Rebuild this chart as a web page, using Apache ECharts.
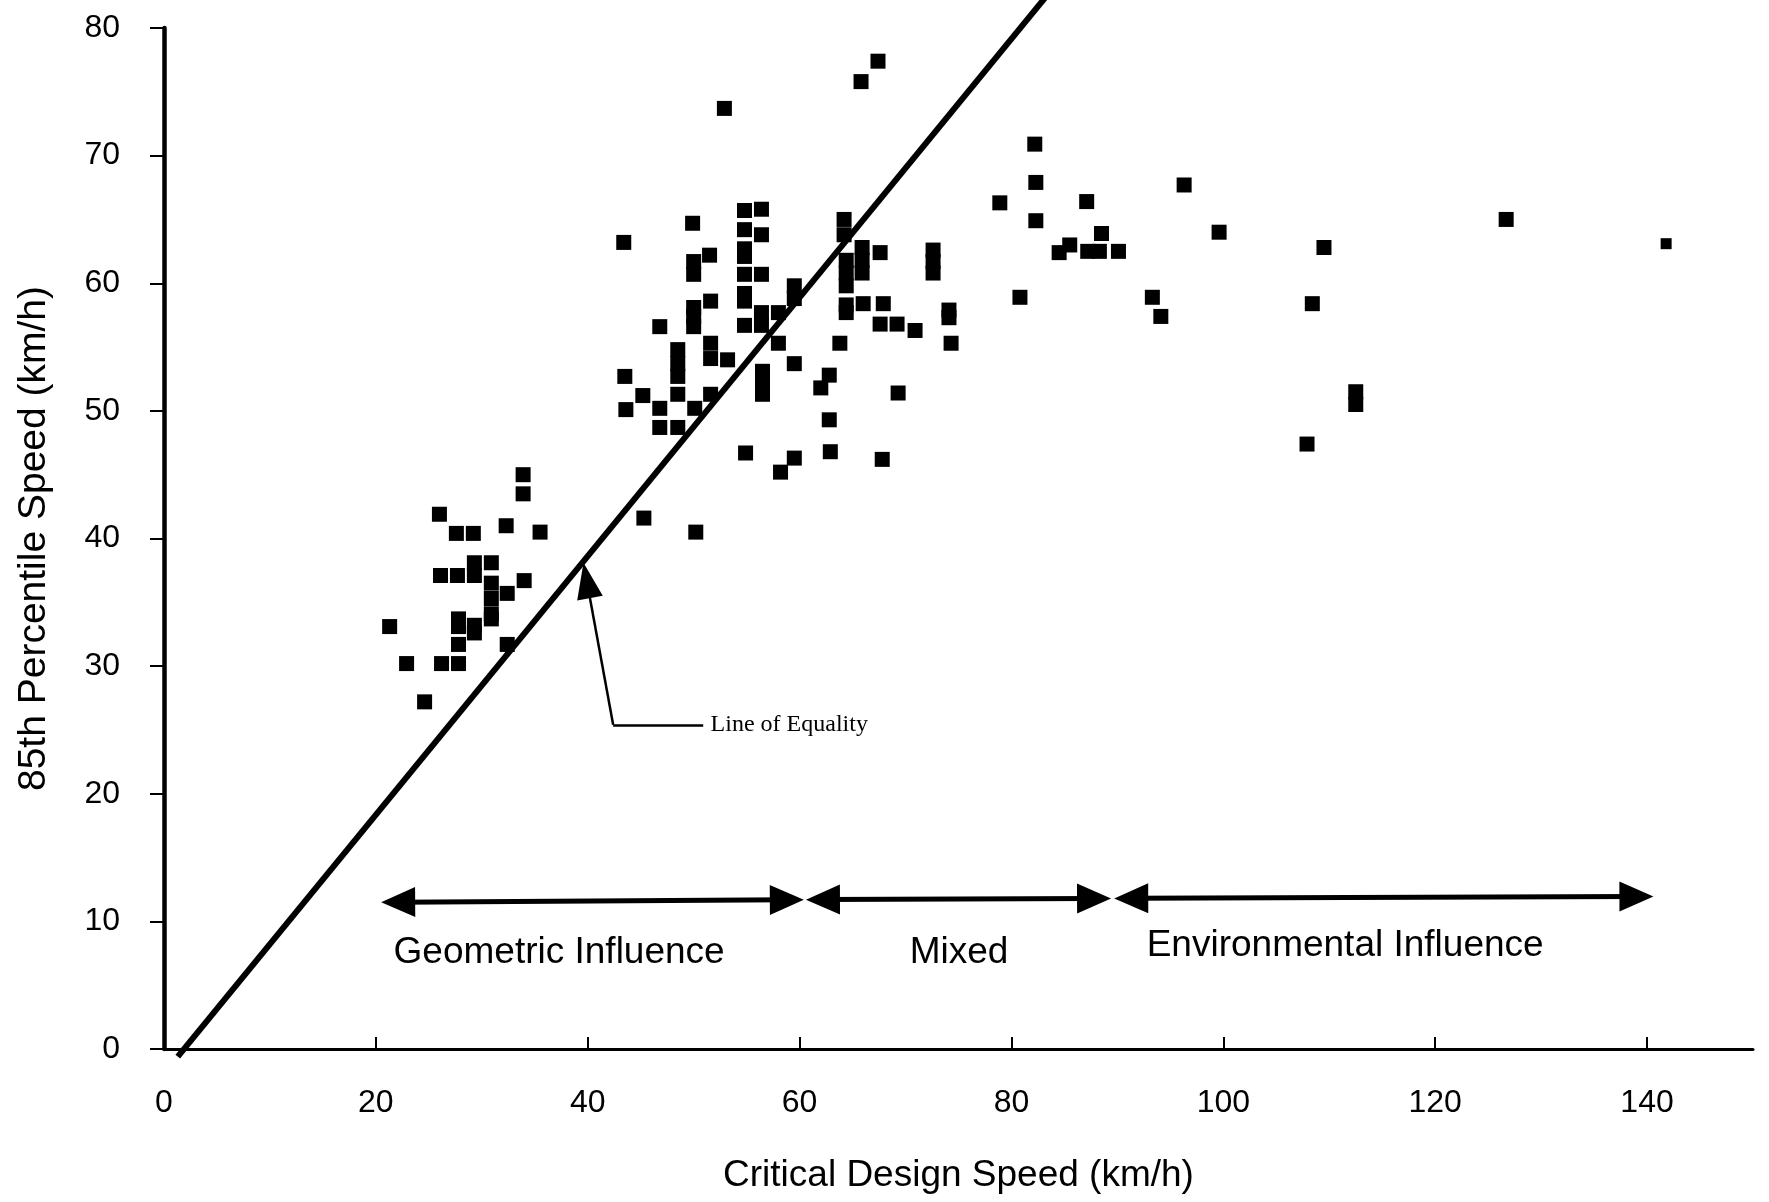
<!DOCTYPE html>
<html><head><meta charset="utf-8">
<script src="https://cdn.jsdelivr.net/npm/echarts@6/dist/echarts.min.js"></script>
<style>html,body{margin:0;padding:0;background:#fff}#c{width:1769px;height:1202px}</style>
</head><body><div id="c"></div>
<script>
// ---- data ----
const criticalDesignSpeed = [
  33.9,33.9,26.0,27.6,29.2,32.3,35.5,26.1,27.7,29.3,29.3,30.9,30.9,30.9,30.9,30.9,32.4,34.0,21.3,27.8,27.8,27.8,29.3,29.3,32.4,22.9,26.2,27.8,24.6,
  43.4,49.9,50.0,50.0,51.5,50.0,50.0,50.0,51.6,46.8,48.5,48.5,48.5,43.5,45.2,48.5,43.6,46.8,46.8,48.5,50.1,51.6,51.6,53.2,51.6,
  54.8,54.8,56.4,56.4,54.8,54.8,54.8,56.4,54.8,54.8,54.8,56.4,56.4,58.0,58.0,59.5,59.5,59.5,56.5,56.5,56.5,54.9,58.2,59.5,45.3,50.2,
  64.2,64.2,64.4,64.4,64.4,65.9,65.9,65.9,67.6,72.6,72.6,72.6,64.4,64.4,66.0,67.9,67.6,69.2,70.9,74.1,74.1,74.3,63.8,62.8,62.0,69.3,62.8,62.9,67.8,
  52.9,65.8,67.4,
  82.2,82.3,78.9,87.1,96.3,82.3,88.5,85.5,84.5,87.2,88.3,90.1,99.6,80.8,93.3,94.1,
  126.7,109.5,141.8,108.4,112.5,112.5,107.9
];
const percentile85Speed = [
  45.0,43.5,41.9,40.4,40.4,41.0,40.5,37.1,37.1,38.1,37.1,38.1,36.5,35.3,34.1,33.7,35.7,36.7,33.1,33.7,33.1,31.7,33.2,32.6,31.7,30.2,30.2,30.2,27.2,
  63.2,64.7,61.7,60.7,62.2,58.1,57.4,56.6,58.6,56.6,54.8,53.7,52.7,52.7,51.2,51.3,50.1,50.2,48.7,48.7,50.2,55.3,54.1,54.0,51.3,
  65.7,64.2,65.8,63.8,62.7,62.1,60.7,60.7,59.2,58.6,56.7,57.7,56.7,57.7,55.3,59.8,58.8,53.7,53.1,52.2,51.3,46.7,45.2,46.3,41.6,40.5,
  65.0,63.8,61.8,60.8,59.8,62.8,61.8,60.8,62.4,62.6,61.7,60.8,58.3,57.7,58.4,58.4,56.8,56.8,56.3,57.9,57.3,55.3,55.3,52.8,51.8,51.4,49.3,46.8,46.2,
  73.7,75.8,77.4,
  70.9,67.9,66.3,66.4,67.7,64.9,63.9,63.0,62.4,62.5,62.5,62.5,64.0,58.9,58.9,57.4,
  65.0,62.8,63.1,58.4,51.5,50.5,47.4
];
const xTickValues = [0,20,40,60,80,100,120,140];
const yTickValues = [0,10,20,30,40,50,60,70,80];

// line of equality as drawn (two end points)
const equalityX = [1.3, 83.4];
const equalityY = [-0.6, 82.6];

// influence ranges (double arrows, arrow-tip positions) and their labels
const rangeNames  = ['Geometric Influence', 'Mixed', 'Environmental Influence'];
const rangeStartX = [20.5, 60.6, 89.7];
const rangeEndX   = [60.4, 89.4, 140.6];
const rangeStartY = [11.5, 11.7, 11.8];
const rangeEndY   = [11.7, 11.8, 11.95];
const rangeLabelX = [37.3, 75.05, 111.5];
const rangeLabelY = [7.5, 7.5, 8.1];

// "Line of Equality" call-out: text anchor, leader end, elbow, arrow tip
const calloutText = 'Line of Equality';
const calloutTextPos = [51.6, 25.4];
const calloutLeaderEnd = [50.9, 25.4];
const calloutElbow = [42.4, 25.4];
const calloutTip = [39.6, 38.1];

// ---- chart ----
const points = criticalDesignSpeed.map((x, i) => [x, percentile85Speed[i]]);
const sans = "'Liberation Sans', Arial, sans-serif";
const RANGE_HEAD = [30, 34];   // [width, length] of range arrow heads, px
const CALLOUT_HEAD = [26, 36];

const chart = echarts.init(document.getElementById('c'), null, { renderer: 'canvas' });

function buildOption(rangeLines, calloutLines) {
  return {
    backgroundColor: '#ffffff',
    animation: false,
    grid: { left: 164, right: 16, top: 28, bottom: 153 },
    xAxis: {
      type: 'value', min: 0, max: 150,
      name: 'Critical Design Speed (km/h)', nameLocation: 'middle', nameGap: 108,
      nameTextStyle: { fontFamily: sans, fontSize: 37, color: '#000' },
      splitLine: { show: false },
      axisLine: { show: true, onZero: false, lineStyle: { color: '#000', width: 3 } },
      axisTick: { show: true, inside: true, length: 12, customValues: xTickValues, lineStyle: { color: '#000', width: 2 } },
      axisLabel: { customValues: xTickValues, margin: 38, fontFamily: sans, fontSize: 32, color: '#000' }
    },
    yAxis: {
      type: 'value', min: 0, max: 80, interval: 10,
      name: '85th Percentile Speed (km/h)', nameLocation: 'middle', nameGap: 110, nameRotate: 90,
      nameTextStyle: { fontFamily: sans, fontSize: 39, color: '#000' },
      splitLine: { show: false },
      axisLine: { show: true, lineStyle: { color: '#000', width: 4.5 } },
      axisTick: { show: true, inside: false, length: 14, customValues: yTickValues, lineStyle: { color: '#000', width: 2 } },
      axisLabel: { customValues: yTickValues, margin: 44, fontFamily: sans, fontSize: 32, color: '#000' }
    },
    series: [
      {
        type: 'scatter', name: 'sites', data: points,
        symbol: 'rect', symbolSize: (v) => (v[0] > 140 ? 11 : 15),
        itemStyle: { color: '#000', opacity: 1 }, z: 3
      },
      {
        type: 'line', name: 'Line of Equality',
        data: equalityX.map((x, i) => [x, equalityY[i]]),
        clip: false, symbol: 'none', lineStyle: { color: '#000', width: 6 }, z: 4,
        markPoint: {
          symbol: 'rect', symbolSize: 0,
          label: { show: true, position: 'right', distance: 0, fontFamily: "'Liberation Serif', 'Times New Roman', serif", fontSize: 24, color: '#000', formatter: (p) => p.value },
          data: [{ coord: calloutTextPos, value: calloutText }]
        }
      },
      {
        type: 'line', name: 'ranges', data: [], symbol: 'none',
        markLine: {
          silent: true, symbol: ['triangle', 'triangle'], symbolSize: RANGE_HEAD,
          lineStyle: { color: '#000', width: 5, type: 'solid' },
          itemStyle: { color: '#000' },
          label: { show: false },
          data: rangeLines
        },
        markPoint: {
          symbol: 'rect', symbolSize: 0,
          label: { show: true, position: 'inside', fontFamily: sans, fontSize: 37, color: '#000', formatter: (p) => p.value },
          data: rangeNames.map((n, i) => ({ coord: [rangeLabelX[i], rangeLabelY[i]], value: n }))
        }
      },
      {
        type: 'line', name: 'callout', data: [], symbol: 'none',
        markLine: {
          silent: true,
          lineStyle: { color: '#000', width: 2.5, type: 'solid' },
          itemStyle: { color: '#000' },
          label: { show: false },
          data: calloutLines
        }
      }
    ]
  };
}

// pull an end point inwards so that the (centred) arrow head's tip lands on the read position
function pullIn(tip, other, px) {
  const a = chart.convertToPixel({ gridIndex: 0 }, tip);
  const b = chart.convertToPixel({ gridIndex: 0 }, other);
  const dx = b[0] - a[0], dy = b[1] - a[1];
  const d = Math.hypot(dx, dy) || 1;
  return chart.convertFromPixel({ gridIndex: 0 }, [a[0] + dx / d * px, a[1] + dy / d * px]);
}

function makeLines(adjust) {
  const rangeLines = rangeNames.map((n, i) => {
    const s = [rangeStartX[i], rangeStartY[i]], e = [rangeEndX[i], rangeEndY[i]];
    return [
      { coord: adjust ? pullIn(s, e, RANGE_HEAD[1] / 2) : s },
      { coord: adjust ? pullIn(e, s, RANGE_HEAD[1] / 2) : e }
    ];
  });
  const tip = adjust ? pullIn(calloutTip, calloutElbow, CALLOUT_HEAD[1] / 2) : calloutTip;
  const calloutLines = [
    [{ coord: calloutLeaderEnd, symbol: 'none' }, { coord: calloutElbow, symbol: 'none' }],
    [{ coord: calloutElbow, symbol: 'none' }, { coord: tip, symbol: 'triangle', symbolSize: CALLOUT_HEAD }]
  ];
  return [rangeLines, calloutLines];
}

chart.setOption(buildOption(...makeLines(false)));
chart.setOption(buildOption(...makeLines(true)));
</script></body></html>
